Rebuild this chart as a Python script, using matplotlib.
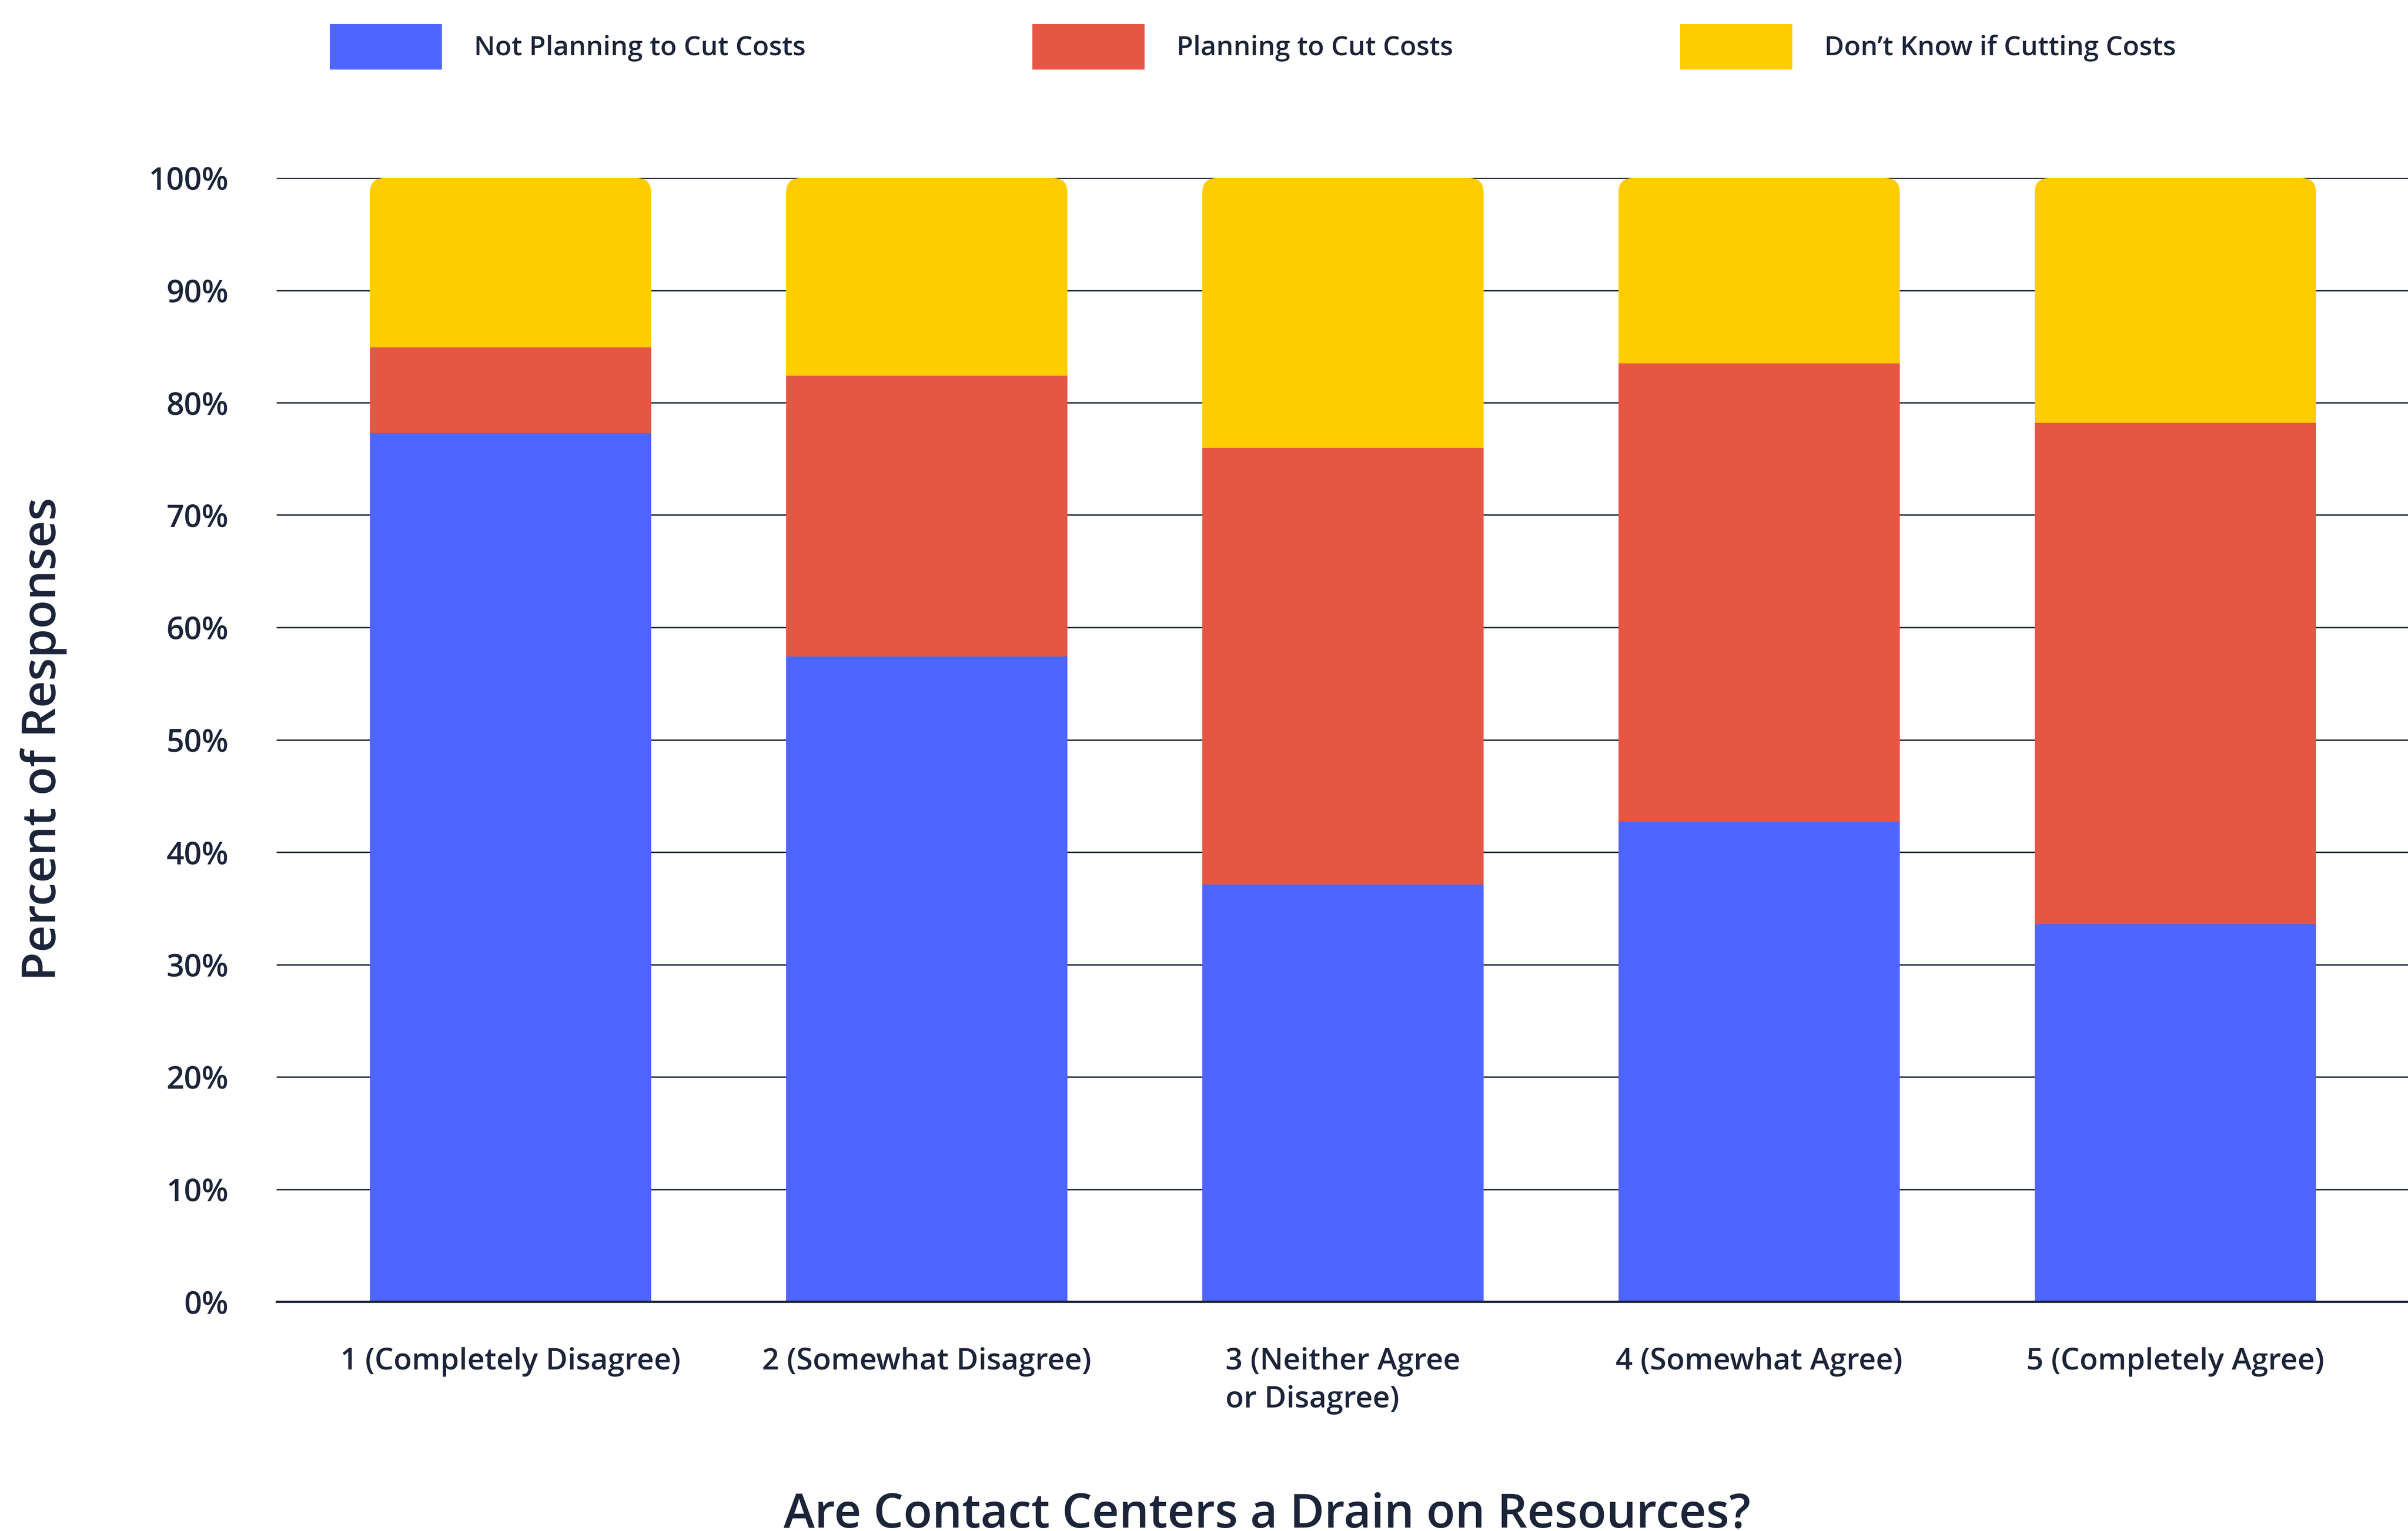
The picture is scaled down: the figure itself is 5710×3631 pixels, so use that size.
import numpy as np
import matplotlib
matplotlib.use("Agg")
import matplotlib.pyplot as plt
from matplotlib.patches import FancyBboxPatch, Patch

# survey answers, share of responses in percent
categories = ["1 (Completely Disagree)", "2 (Somewhat Disagree)",
              "3 (Neither Agree\nor Disagree)", "4 (Somewhat Agree)",
              "5 (Completely Agree)"]
not_planning = [77.3, 57.4, 37.1, 42.7, 33.6]
planning = [7.6, 25.0, 38.9, 40.8, 44.6]
dont_know = [15.1, 17.6, 24.0, 16.5, 21.8]
series_names = ["Not Planning to Cut Costs", "Planning to Cut Costs",
                "Don\u2019t Know if Cutting Costs"]
y_ticks = [0, 10, 20, 30, 40, 50, 60, 70, 80, 90, 100]

colors = ["#4F65FF", "#E55645", "#FFCC00"]
ink = "#1B2438"

plt.rcParams["font.family"] = ["Open Sans", "DejaVu Sans"]
plt.rcParams["font.weight"] = "semibold"

fig = plt.figure(figsize=(57.1, 36.31), dpi=100)
ax = fig.add_axes([656 / 5710, 1 - 3087 / 3631, 1 - 656 / 5710, (3087 - 422) / 3631])

x = np.arange(len(categories))
width = 0.676
series = [not_planning, planning, dont_know]
bottom = np.zeros(len(categories))
all_bars = []
for vals, col, name in zip(series, colors, series_names):
    bars = ax.bar(x, vals, width, bottom=bottom, color=col, edgecolor="none",
                  label=name, zorder=2)
    all_bars.append(bars)
    bottom += np.array(vals)

# round the top corners of each stacked column
rx = 0.0355
ry_over_rx = 37.0
for i, xi in enumerate(x):
    clip = FancyBboxPatch((xi - width / 2, -10), width, 110,
                          boxstyle=f"round,pad=0,rounding_size={rx}",
                          mutation_aspect=ry_over_rx, transform=ax.transData)
    for bars in all_bars:
        bars[i].set_clip_path(clip)

ax.set_xlim(-0.562, 4.559)
ax.set_ylim(0, 100)
ax.set_yticks(y_ticks)
ax.set_yticklabels([f"{t}%" for t in y_ticks])
ax.set_xticks(x)
ax.set_xticklabels(categories, multialignment="left", linespacing=1.38)

for t in y_ticks[1:]:
    ax.axhline(t, color=ink, lw=2.4, zorder=1)
ax.axhline(0, color=ink, lw=3.8, zorder=3, clip_on=False)

for s in ax.spines.values():
    s.set_visible(False)
ax.tick_params(axis="y", length=0, pad=82, labelsize=53, labelcolor=ink)
ax.tick_params(axis="x", length=0, pad=78, labelsize=51, labelcolor=ink)

fig.text(3005 / 5710, 8 / 3631, "Are Contact Centers a Drain on Resources?",
         ha="center", va="baseline", fontsize=80.5, color=ink)
fig.text(103 / 5710, 1 - 1753 / 3631, "Percent of Responses", rotation=90,
         ha="center", va="center", fontsize=80, color=ink)

handles = [Patch(facecolor=c, edgecolor="none") for c in colors]
fig.legend(handles, series_names, loc="center left",
           bbox_to_anchor=(782 / 5710, 1 - 111 / 3631), ncol=3,
           frameon=False, fontsize=46, labelcolor=ink, borderpad=0,
           borderaxespad=0, handlelength=4.16, handleheight=2.2,
           handletextpad=1.19, columnspacing=8.42)

fig.savefig("out.png", dpi=100, facecolor="white")
